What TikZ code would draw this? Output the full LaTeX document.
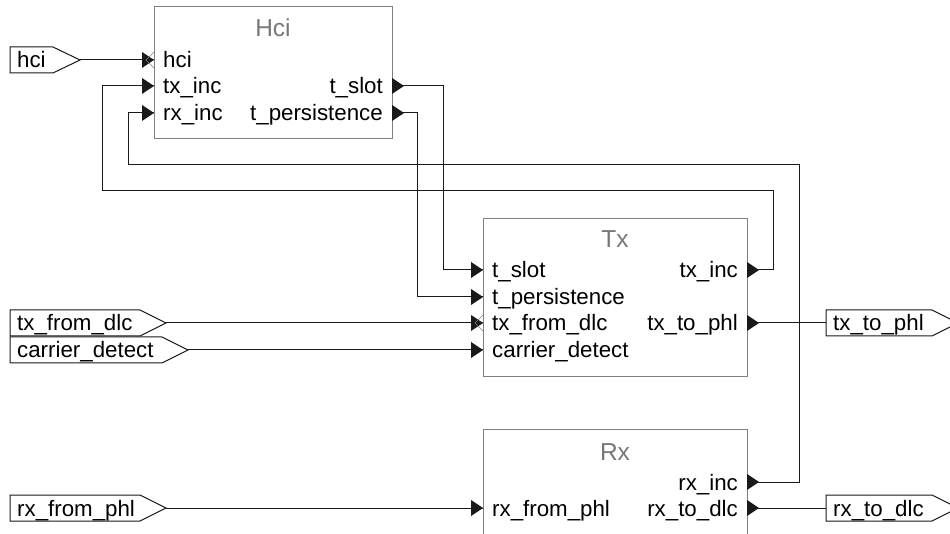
\documentclass[tikz,border=0pt]{standalone}
\usepackage{fontspec}
\setmainfont{Liberation Sans}

\newlength{\du}
\setlength{\du}{1pt}
\definecolor{boxgray}{rgb}{0.500000, 0.500000, 0.500000}
\definecolor{titlegray}{rgb}{0.470000, 0.470000, 0.470000}
\definecolor{wirecolor}{rgb}{0.100000, 0.100000, 0.100000}

\tikzset{
  block/.style={draw=boxgray, line width=1\du, fill=white},
  wire/.style={draw=wirecolor, line width=1\du},
  sigframe/.style={draw=wirecolor, line width=1\du, fill=white},
  porttext/.style={inner sep=0pt, text=black, font=\fontsize{22.3}{25}\selectfont},
  titletext/.style={inner sep=0pt, text=titlegray, font=\fontsize{24.5}{28}\selectfont},
}

% filled port marks, the point sits on the block edge
\newcommand{\inport}[1]{\fill[wirecolor] (#1) -- ++(-12\du,-8\du) -- ++(0,16\du) -- cycle;}
\newcommand{\outport}[1]{\fill[wirecolor] (#1) -- ++(0,-8\du) -- ++(12\du,8\du) -- ++(-12\du,8\du) -- cycle;}

\begin{document}
\begin{tikzpicture}
\pgftransformxscale{1.000000}
\pgftransformyscale{-1.000000}
\useasboundingbox (0\du,0\du) rectangle (950\du,534\du);
\clip (0\du,0\du) rectangle (950\du,534\du);
% Hci block
\draw[block] (154\du,7\du) rectangle (392\du,139\du);
\node[titletext, anchor=base] (hcititle) at (273\du,37\du) {Hci};
\coordinate (hci-hci) at (154\du,60\du);
\coordinate (hci-txinc) at (154\du,86\du);
\coordinate (hci-rxinc) at (154\du,113\du);
\coordinate (hci-tslot) at (392\du,86\du);
\coordinate (hci-tpers) at (392\du,113\du);
\node[porttext, anchor=base west] (hcil1) at (163\du,68\du) {hci};
\node[porttext, anchor=base west] (hcil2) at (163\du,94\du) {tx\_inc};
\node[porttext, anchor=base west] (hcil3) at (163\du,121\du) {rx\_inc};
\node[porttext, anchor=base east] (hcir1) at (383\du,94\du) {t\_slot};
\node[porttext, anchor=base east] (hcir2) at (383\du,121\du) {t\_persistence};
% Tx block
\draw[block] (483\du,219\du) rectangle (747\du,376\du);
\node[titletext, anchor=base] (txtitle) at (615\du,248\du) {Tx};
\coordinate (tx-tslot) at (483\du,270\du);
\coordinate (tx-tpers) at (483\du,297\du);
\coordinate (tx-fromdlc) at (483\du,323\du);
\coordinate (tx-carrier) at (483\du,350\du);
\coordinate (tx-txinc) at (747\du,270\du);
\coordinate (tx-tophl) at (747\du,323\du);
\node[porttext, anchor=base west] (txl1) at (492\du,278\du) {t\_slot};
\node[porttext, anchor=base west] (txl2) at (492\du,305\du) {t\_persistence};
\node[porttext, anchor=base west] (txl3) at (492\du,331\du) {tx\_from\_dlc};
\node[porttext, anchor=base west] (txl4) at (492\du,358\du) {carrier\_detect};
\node[porttext, anchor=base east] (txr1) at (738\du,278\du) {tx\_inc};
\node[porttext, anchor=base east] (txr2) at (738\du,331\du) {tx\_to\_phl};
% Rx block
\draw[block] (483\du,429\du) rectangle (747\du,545\du);
\node[titletext, anchor=base] (rxtitle) at (615\du,460\du) {Rx};
\coordinate (rx-fromphl) at (483\du,508\du);
\coordinate (rx-rxinc) at (747\du,482\du);
\coordinate (rx-todlc) at (747\du,508\du);
\node[porttext, anchor=base west] (rxl1) at (492\du,516\du) {rx\_from\_phl};
\node[porttext, anchor=base east] (rxr1) at (738\du,490\du) {rx\_inc};
\node[porttext, anchor=base east] (rxr2) at (738\du,516\du) {rx\_to\_dlc};
% input signals
\draw[sigframe] (10\du,47\du)--(53\du,47\du)--(80\du,60\du)--(53\du,73\du)--(10\du,73\du)--cycle;
\coordinate (sig-hci) at (80\du,60\du);
\node[porttext, anchor=base west] (sighci) at (17\du,68\du) {hci};
\draw[sigframe] (10\du,310\du)--(140\du,310\du)--(166\du,323\du)--(140\du,336\du)--(10\du,336\du)--cycle;
\coordinate (sig-fromdlc) at (166\du,323\du);
\node[porttext, anchor=base west] (sigfromdlc) at (17\du,331\du) {tx\_from\_dlc};
\draw[sigframe] (10\du,337\du)--(162\du,337\du)--(188\du,350\du)--(162\du,363\du)--(10\du,363\du)--cycle;
\coordinate (sig-carrier) at (188\du,350\du);
\node[porttext, anchor=base west] (sigcarrier) at (17\du,358\du) {carrier\_detect};
\draw[sigframe] (10\du,495\du)--(140\du,495\du)--(166\du,508\du)--(140\du,521\du)--(10\du,521\du)--cycle;
\coordinate (sig-fromphl) at (166\du,508\du);
\node[porttext, anchor=base west] (sigfromphl) at (17\du,516\du) {rx\_from\_phl};
% output signals
\draw[sigframe] (826\du,310\du)--(932\du,310\du)--(958\du,323\du)--(932\du,336\du)--(826\du,336\du)--cycle;
\coordinate (sig-tophl) at (826\du,323\du);
\node[porttext, anchor=base west] (sigtophl) at (833\du,331\du) {tx\_to\_phl};
\draw[sigframe] (826\du,495\du)--(932\du,495\du)--(958\du,508\du)--(932\du,521\du)--(826\du,521\du)--cycle;
\coordinate (sig-todlc) at (826\du,508\du);
\node[porttext, anchor=base west] (sigtodlc) at (833\du,516\du) {rx\_to\_dlc};
% wires
\draw[wire] (sig-hci) -- (hci-hci);
\draw[wire] (tx-txinc) -| (773\du,191\du) -| (102\du,86\du) -- (hci-txinc);
\draw[wire] (rx-rxinc) -| (799\du,165\du) -| (128\du,113\du) -- (hci-rxinc);
\draw[wire] (hci-tslot) -| (443\du,270\du) -- (tx-tslot);
\draw[wire] (hci-tpers) -| (417\du,297\du) -- (tx-tpers);
\draw[wire] (sig-fromdlc) -- (tx-fromdlc);
\draw[wire] (sig-carrier) -- (tx-carrier);
\draw[wire] (tx-tophl) -- (sig-tophl);
\draw[wire] (sig-fromphl) -- (rx-fromphl);
\draw[wire] (rx-todlc) -- (sig-todlc);
% port marks
\inport{hci-hci}
\inport{hci-txinc}
\inport{hci-rxinc}
\outport{hci-tslot}
\outport{hci-tpers}
\inport{tx-tslot}
\inport{tx-tpers}
\inport{tx-fromdlc}
\inport{tx-carrier}
\outport{tx-txinc}
\outport{tx-tophl}
\inport{rx-fromphl}
\outport{rx-rxinc}
\outport{rx-todlc}
\draw[boxgray, line width=0.6\du] (hci-hci) ++(0,-8\du) -- ++(-8\du,8\du) -- ++(8\du,8\du);
\draw[boxgray, line width=0.6\du] (tx-fromdlc) ++(0,-8\du) -- ++(-8\du,8\du) -- ++(8\du,8\du);
\end{tikzpicture}
\end{document}
